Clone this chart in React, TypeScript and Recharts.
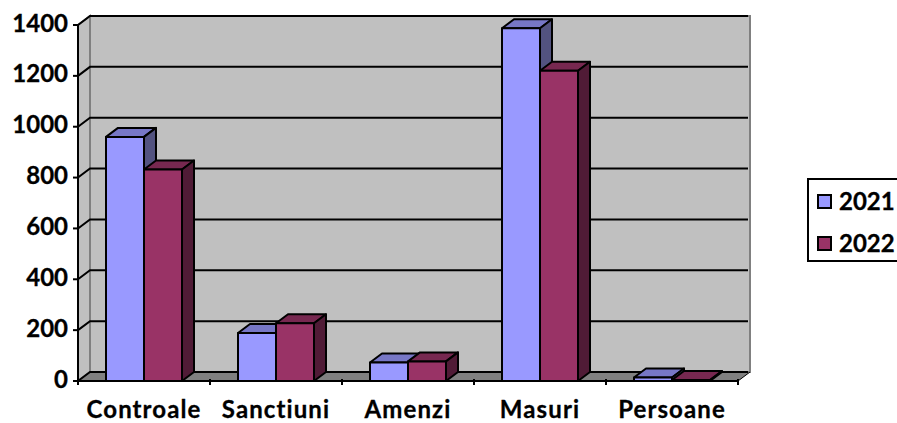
import { BarChart, Bar, XAxis, YAxis, CartesianGrid, Legend, ReferenceArea } from 'recharts';

const categories = ['Controale', 'Sanctiuni', 'Amenzi', 'Masuri', 'Persoane'];
const values2021 = [960, 189, 73, 1387, 14];
const values2022 = [832, 227, 77, 1220, 4];
const yTicks = [0, 200, 400, 600, 800, 1000, 1200, 1400];
const seriesNames = ['2021', '2022'];

const data = categories.map((name, i) => ({
  name,
  y2021: values2021[i],
  y2022: values2022[i],
}));

const FONT = 'Lato, sans-serif';
const DX = 12;
const DY = -9;
const colors: Record<string, string[]> = {
  '#9999FF': ['#7777C6', '#535380'],
  '#993366': ['#772850', '#501B36'],
};

function Bar3D(props: any) {
  const { x, y, width, height, fill } = props;
  const [top, side] = colors[fill];
  const r = x + width;
  const b = y + height;
  return (
    <g stroke="#000" strokeWidth={2} strokeLinejoin="round">
      <polygon fill={top} points={`${x},${y} ${x + DX},${y + DY} ${r + DX},${y + DY} ${r},${y}`} />
      <polygon fill={side} points={`${r},${y} ${r + DX},${y + DY} ${r + DX},${b + DY} ${r},${b}`} />
      <rect x={x} y={y} width={width} height={height} fill={fill} />
    </g>
  );
}

function Walls(props: any) {
  const { x, y, width, height } = props;
  const r = x + width;
  const b = y + height;
  return (
    <g>
      <rect x={x + DX} y={y + DY} width={width} height={height} fill="#C0C0C0" stroke="#808080" strokeWidth={2} />
      <polygon points={`${x},${y} ${x + DX},${y + DY} ${x + DX},${b + DY} ${x},${b}`} fill="#C0C0C0" stroke="#808080" strokeWidth={2} />
      <polygon points={`${x},${b} ${x + DX},${b + DY} ${r + DX},${b + DY} ${r},${b}`} fill="#808080" />
      <line x1={r} y1={b} x2={r + DX} y2={b + DY} stroke="#000" />
    </g>
  );
}

function gridLine(props: any) {
  const { x1, x2, y1 } = props;
  return (
    <polyline
      key={props.key ?? y1}
      points={`${x1},${y1} ${x1 + DX},${y1 + DY} ${x2 + DX - 2},${y1 + DY}`}
      fill="none"
      stroke="#000"
      strokeWidth={2}
    />
  );
}

function CategoryTick(props: any) {
  const { x, y, payload, index } = props;
  const step = 132;
  return (
    <g>
      <line x1={x - step / 2} y1={y - 8} x2={x - step / 2} y2={y - 2} stroke="#000" strokeWidth={2} />
      {index === categories.length - 1 && (
        <line x1={x + step / 2} y1={y - 8} x2={x + step / 2} y2={y - 2} stroke="#000" strokeWidth={2} />
      )}
      <text
        x={x}
        y={y + 31}
        textAnchor="middle"
        fontFamily={FONT}
        fontWeight={700}
        fontSize={24}
        letterSpacing={1.1}
        stroke="#000"
        strokeWidth={0.3}
        fill="#000"
      >
        {payload.value}
      </text>
    </g>
  );
}

function LegendBox() {
  const swatches = ['#9999FF', '#993366'];
  return (
    <div
      style={{
        position: 'absolute',
        left: 807,
        top: 178,
        width: 90,
        height: 84,
        boxSizing: 'border-box',
        border: '2px solid #000',
        borderRight: 'none',
        background: '#fff',
      }}
    >
      {seriesNames.map((s, i) => (
        <div
          key={s}
          style={{
            position: 'absolute',
            left: 8,
            top: 2 + i * 42,
            height: 38,
            display: 'flex',
            alignItems: 'center',
            fontFamily: FONT,
            fontWeight: 700,
            fontSize: 24,
            color: '#000',
            WebkitTextStroke: '0.3px #000',
          }}
        >
          <span
            style={{
              width: 11,
              height: 11,
              border: '2px solid #000',
              background: swatches[i],
              marginRight: 7,
            }}
          />
          <span style={{ position: 'relative', top: -1 }}>{s}</span>
        </div>
      ))}
    </div>
  );
}

export default function App() {
  return (
    <div style={{ position: 'absolute', left: 0, top: 0, width: 897, height: 423, overflow: 'hidden' }}>
      <BarChart
        width={897}
        height={423}
        data={data}
        margin={{ top: 25, right: 159, left: 0, bottom: 0 }}
        barCategoryGap={28}
        barGap={0}
      >
        <ReferenceArea shape={Walls} ifOverflow="visible" zIndex={-200} />
        <CartesianGrid vertical={false} horizontal={gridLine} />
        <XAxis
          dataKey="name"
          height={42}
          interval={0}
          tickLine={false}
          axisLine={{ stroke: '#000', strokeWidth: 2 }}
          tick={CategoryTick}
          tickMargin={0}
        />
        <YAxis
          width={78}
          domain={[0, 1400]}
          ticks={yTicks}
          interval={0}
          axisLine={{ stroke: '#000', strokeWidth: 2 }}
          tickLine={{ stroke: '#000', strokeWidth: 2 }}
          tickSize={5}
          tickMargin={5}
          tick={{ fontFamily: FONT, fontWeight: 700, fontSize: 24, fill: '#000', stroke: '#000', strokeWidth: 0.3, dy: -2 }}
        />
        <Legend content={LegendBox} wrapperStyle={{ position: 'absolute', left: 0, top: 0, width: 0, height: 0 }} />
        <Bar dataKey="y2021" name="2021" fill="#9999FF" shape={Bar3D} isAnimationActive={false} />
        <Bar dataKey="y2022" name="2022" fill="#993366" shape={Bar3D} isAnimationActive={false} />
      </BarChart>
    </div>
  );
}
